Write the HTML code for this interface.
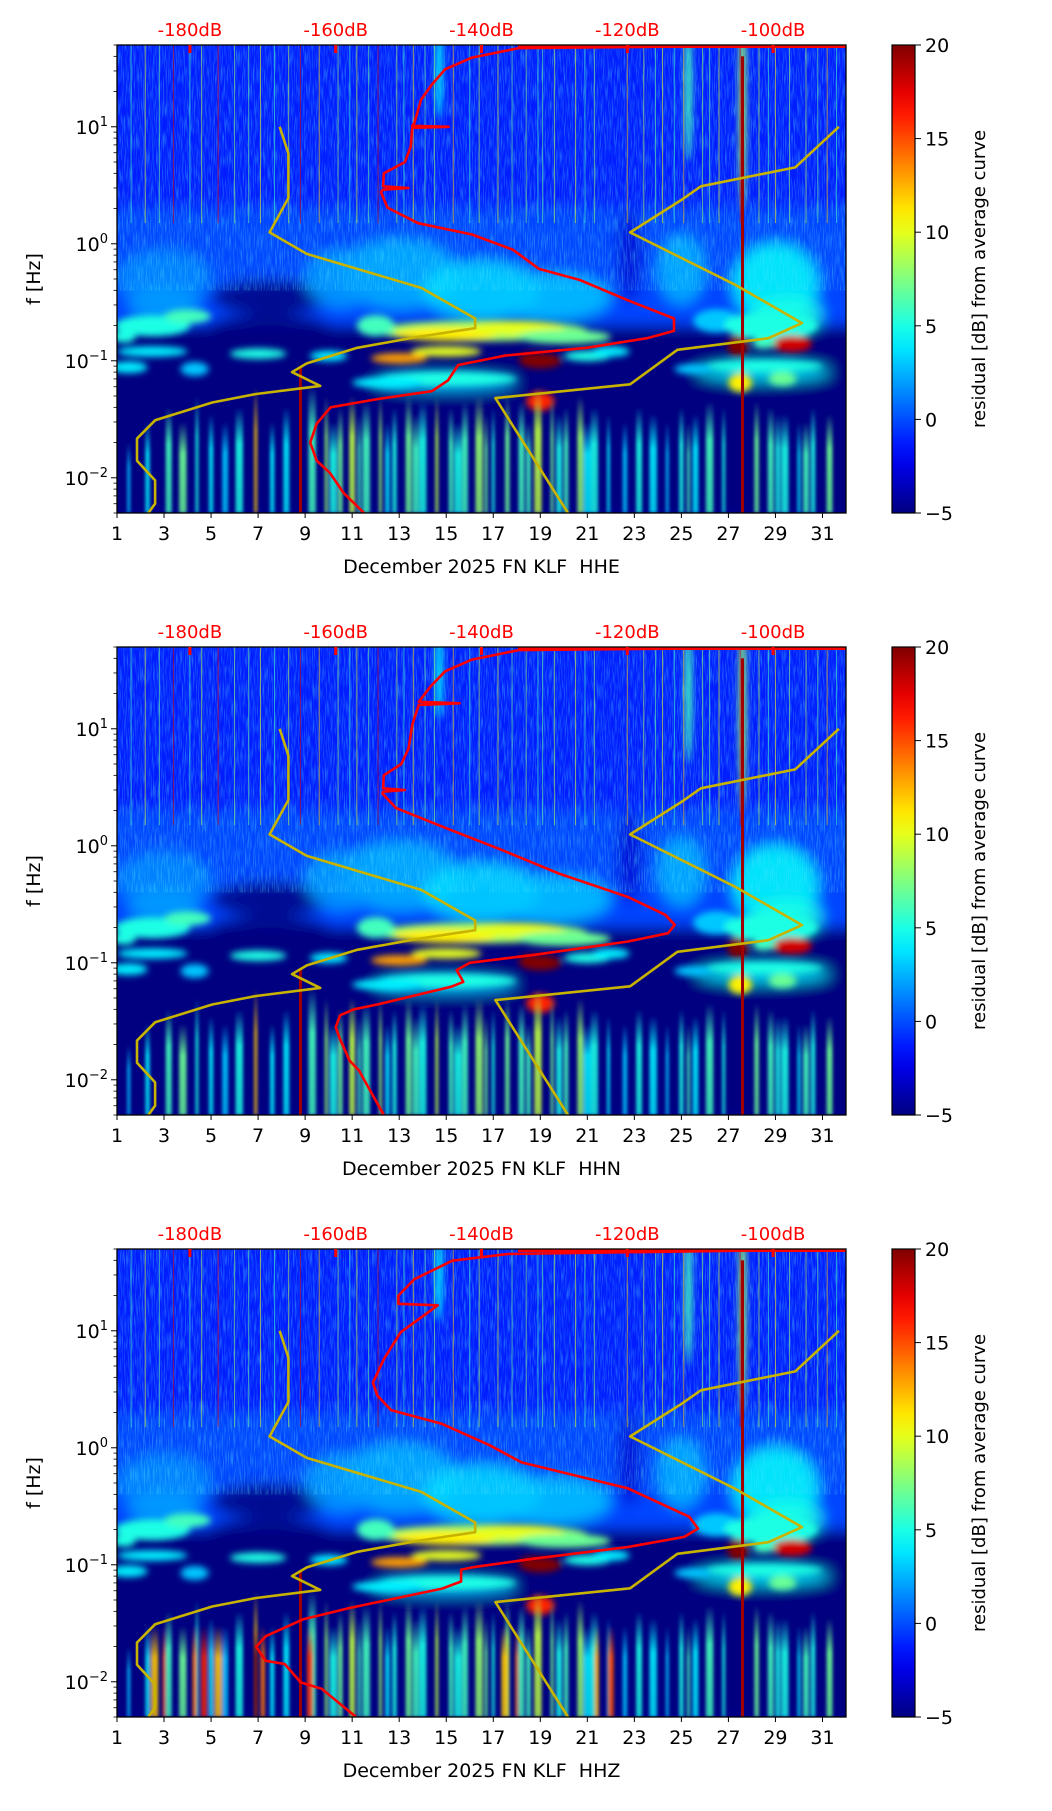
<!DOCTYPE html>
<html><head><meta charset="utf-8"><title>Residual spectrogram KLF December 2025</title>
<style>
html,body{margin:0;padding:0;background:#fff;}
svg text{font-family:"DejaVu Sans","Liberation Sans",sans-serif;}
</style></head>
<body>
<svg id="fig" xmlns="http://www.w3.org/2000/svg" width="1052" height="1806" viewBox="0 0 1052 1806">
<defs>
<filter id="blur" x="-50%" y="-50%" width="200%" height="200%"><feGaussianBlur stdDeviation="7"/></filter>
<filter id="blurs" x="-50%" y="-50%" width="200%" height="200%"><feGaussianBlur stdDeviation="3.5"/></filter>
<filter id="blur2" x="-20%" y="-20%" width="140%" height="140%"><feGaussianBlur stdDeviation="1.5"/></filter>
<filter id="noise" x="0" y="0" width="100%" height="100%">
<feTurbulence type="fractalNoise" baseFrequency="0.9 0.06" numOctaves="2" seed="3"/>
<feColorMatrix type="matrix" values="0 0 0 0 0.1  0 0 0 0 0.8  0 0 0 0 1  0 0 0 -2.4 1.4"/>
</filter>
<linearGradient id="cbar" x1="0" y1="1" x2="0" y2="0"></linearGradient>
</defs>
</svg>
<script>
// ---------- data ----------
const dayTicks = [1,3,5,7,9,11,13,15,17,19,21,23,25,27,29,31];
const dbTicks = [-180,-160,-140,-120,-100];
const cbTicks = [20,15,10,5,0,-5];
const yDecades = [-2,-1,0,1];
const channels = ["HHE","HHN","HHZ"];

// yellow reference curves (day, frequency Hz)
const yellowLeftDay = [7.92,8.29,8.29,7.49,9.07,13.94,16.23,16.23,13.79,11.22,9.07,8.44,9.64,6.92,5.05,2.62,1.85,1.85,2.62,2.62,2.33];
const yellowLeftF   = [10,5.9,2.46,1.25,0.82,0.42,0.23,0.19,0.16,0.129,0.095,0.080,0.061,0.052,0.044,0.031,0.0216,0.014,0.0095,0.006,0.005];
const yellowRightDay = [31.7,29.84,25.83,24.97,22.82,27.26,30.13,28.7,24.83,22.82,17.09,20.18];
const yellowRightF   = [10,4.5,3.1,2.35,1.25,0.45,0.21,0.156,0.124,0.063,0.048,0.005];

// red average curves (dB, frequency Hz) per channel
const redF1  = [50,47,39,31,23,17,10.8,10.2,10,9.8,6.8,5.0,4.0,3.1,3.0,2.9,2.77,2.04,1.5,1.2,0.89,0.61,0.49,0.33,0.23,0.18,0.156,0.129,0.111,0.092,0.068,0.055,0.047,0.040,0.029,0.020,0.014,0.011,0.0074,0.005];
const redDb1 = [-89.5,-134.9,-141.3,-145,-146.8,-148.3,-149.2,-149.5,-144.5,-149.5,-149.7,-150.5,-153.4,-153.5,-150,-153.5,-153.8,-152.9,-148.7,-141.3,-135.7,-132.1,-126.5,-120,-113.6,-113.6,-117.3,-125.6,-136.7,-143.2,-144.6,-146.8,-154.3,-160.7,-162.6,-163.5,-162.6,-160.8,-158.9,-156.1];
const redF2  = [50,47,39,31,23,17,16.5,16,10.8,6.8,5.0,4.0,3.1,3.0,2.9,2.8,2.1,1.46,0.91,0.58,0.365,0.257,0.211,0.179,0.152,0.117,0.1,0.0866,0.0687,0.0626,0.044,0.040,0.0356,0.0282,0.0222,0.0146,0.012,0.005];
const redDb2 = [-89.5,-134.9,-141.3,-145,-147,-148.6,-143,-148.6,-149.5,-150,-151,-153.4,-153.5,-150.5,-153.5,-153.6,-151.7,-145.4,-137,-129.4,-119.9,-114.8,-113.5,-114.4,-119.9,-132.7,-141.6,-143.4,-142.5,-144.1,-154.3,-157.5,-159.4,-160,-159.4,-158.1,-156.8,-153.4];
const redF3  = [50,45.3,39.7,27.6,20,17,16.5,9.7,5.7,3.6,2.8,2.1,1.6,1.06,0.75,0.45,0.257,0.204,0.173,0.142,0.113,0.096,0.091,0.072,0.0626,0.0427,0.0341,0.0245,0.0199,0.0151,0.0142,0.00988,0.0087,0.005];
const redDb3 = [-89.5,-136.4,-144,-149.2,-151.4,-151.4,-146,-151.1,-153.4,-154.9,-154.3,-152.4,-145.4,-139,-134.5,-119.9,-111.5,-110.3,-112.2,-119.9,-132.7,-140.9,-142.8,-142.8,-145.4,-158.1,-164.5,-169.6,-170.9,-169.6,-167,-164.8,-161.9,-157.2];
const redDbSets = [redDb1, redDb2, redDb3];
const redFSets = [redF1, redF2, redF3];

// spectrogram background regions: day0, day1, f0, f1, level dB
const regionDay0 = [1, 1, 1];
const regionDay1 = [32, 32, 32];
const regionF0 = [2, 0.2, 0.005];
const regionF1 = [50, 2, 0.2];
const regionLevel = [-1.2, -0.2, -5];

// broad blobs (heavy blur): day, frequency, half-width (days), half-height (decades), level dB
const wideDay = [13,16.5,19.5,29,3,7.5,22.8,25,10.5,7.5,3,29.5,28.5,15];
const wideF   = [0.55,0.4,0.35,0.45,0.5,0.35,0.8,0.6,0.5,0.2,0.3,0.25,0.08,0.065];
const wideRx  = [2.5,2.5,2.5,1.8,2,2.5,0.5,1,1.5,2.5,1.5,1.5,2.8,3];
const wideRy  = [0.3,0.25,0.2,0.35,0.25,0.15,0.4,0.3,0.25,0.1,0.15,0.15,0.08,0.07];
const wideLevel = [2.5,3.5,3,4.5,1.5,-5,-3,2.5,2,-5,2,5,4,3];

// compact features (light blur): day, frequency, half-width (days), half-height (decades), level dB
const blobDay = [2.5,4,1.3,2.5,7,10,1.5,4.3,16.5,15,18,12,20,13,15,19,18.6,21,22,15,19,12.5,26.5,28.8,27.4,29.7,28.5,28.5,27.5,29.3,25.5,14.7,25.3,27.6];
const blobF   = [0.2,0.24,0.16,0.12,0.115,0.11,0.088,0.085,0.18,0.17,0.19,0.2,0.16,0.105,0.12,0.1,0.105,0.11,0.12,0.07,0.045,0.065,0.22,0.2,0.135,0.14,0.14,0.09,0.065,0.07,0.085,30,20,15];
const blobRx  = [1.6,1.0,0.5,1.5,1.2,0.8,0.8,0.6,4.5,2.2,2,0.8,2,1.2,1.5,0.9,0.5,1,0.8,3,0.6,1.5,1,2,0.45,0.85,0.5,2.5,0.5,0.6,0.8,0.15,0.15,0.15];
const blobRy  = [0.09,0.06,0.05,0.045,0.045,0.045,0.05,0.06,0.09,0.06,0.06,0.09,0.06,0.045,0.045,0.065,0.05,0.045,0.045,0.06,0.08,0.05,0.1,0.12,0.09,0.07,0.045,0.05,0.08,0.06,0.045,0.4,0.6,0.9];
const blobLevel = [5,6,5,4,5,4,4,3,8,11,10,6,7,13,10,21,20,5,4,5,16,4,3,5,20,18,6,5,11,7,3,4,6,8];

// thin vertical streaks in upper band: day, level dB
const upperStreakDay = [2.2,3.4,4.6,5.3,6.0,7.1,8.3,8.8,9.6,10.4,11.2,12.1,12.9,13.6,14.5,15.3,16.4,17.2,18.4,19.6,20.5,21.3,22.7,23.4,24.2,25.1,25.9,26.6,27.5,28.3,29.0,29.6,30.3,31.2,2.8,6.6,11.7,14.1,17.8,19.1,23.9,26.2,30.8,1.6,4.1,7.7,10.9,13.2,16.0,18.9,20.9,24.7,28.7,31.6];
const upperStreakLevel = [10,18,9,17,8,10,9,18,12,8,10,18,9,11,8,12,9,10,8,9,10,8,12,9,10,12,8,10,18,9,11,8,9,12,7,7,7,7,7,7,7,7,7,6,6,6,6,6,6,6,6,6,6,6];

// lower band streaks: day, top frequency Hz, level dB
const lowStreakDay = [1.5,2.3,3.2,3.8,4.4,5.0,5.6,6.2,6.9,7.6,8.2,9.3,9.9,10.5,11.0,11.6,12.2,12.8,13.4,14.0,14.6,15.2,15.8,16.4,17.0,17.6,18.2,18.9,19.5,20.1,20.7,21.3,21.9,22.6,23.2,23.8,24.4,25.0,25.6,26.2,26.8,28.2,28.8,29.4,30.0,30.6,31.3,10.2,11.3,12.5,13.7,15.5,16.7,18.5,19.8,21.0,25.3,29.1,30.3];
const lowStreakTop = [0.02,0.03,0.04,0.03,0.05,0.035,0.03,0.04,0.06,0.03,0.04,0.06,0.05,0.04,0.05,0.045,0.05,0.04,0.05,0.045,0.05,0.04,0.045,0.05,0.04,0.05,0.045,0.06,0.05,0.04,0.05,0.04,0.035,0.03,0.04,0.035,0.03,0.04,0.035,0.045,0.04,0.045,0.04,0.035,0.03,0.04,0.035,0.03,0.035,0.03,0.035,0.03,0.035,0.03,0.035,0.03,0.03,0.035,0.03];
const lowStreakLevel = [3,4,6,7,5,4,3,5,12,4,4,6,8,7,9,6,8,5,7,5,9,6,6,8,5,7,6,9,7,6,8,5,4,3,5,4,3,5,4,6,5,7,6,5,4,5,7,5,6,4,6,5,7,6,5,4,6,5,6];
const hotStreakDay = [8.8,27.6];
const hotStreakTop = [0.09,40];
// extra warm streaks for HHZ low frequencies
const zStreakDay = [2.6,3.0,4.3,4.7,5.3,6.9,7.2,9.2,17.5,18.0,21.4,22.0];
const zStreakLevel = [12,15,14,16,12,20,14,16,12,14,13,15];

// ---------- geometry ----------
const svg = document.getElementById('fig');
const NS = 'http://www.w3.org/2000/svg';
const PL = 117, PR = 846, PH = 468, TOPS = [45,647,1249];
const CBX = 892, CBW = 23;
const X = d => PL + (d - 1) * (PR - PL) / 31;
const XdB = db => PL + (db + 190) * (PR - PL) / 100;
const mkY = top => f => top + (Math.log10(50) - Math.log10(f)) * PH / 4;
function jetV(v){
  v = Math.max(0, Math.min(1, v));
  const c = t => Math.round(255 * Math.max(0, Math.min(1, t)));
  let r = c(1.5 - Math.abs(4*v - 3)), g = c(1.5 - Math.abs(4*v - 2)), b = c(1.5 - Math.abs(4*v - 1));
  return `rgb(${r},${g},${b})`;
}
const jet = db => jetV((db + 5) / 25);
function el(tag, attrs, parent){
  const e = document.createElementNS(NS, tag);
  for (const k in attrs) e.setAttribute(k, attrs[k]);
  (parent || svg).appendChild(e);
  return e;
}
function txt(x, y, s, attrs, parent){
  const t = el('text', Object.assign({x: x, y: y}, attrs), parent);
  t.textContent = s;
  return t;
}
const cbg = document.getElementById('cbar');
for (let i = 0; i <= 20; i++) el('stop', {offset: i/20, 'stop-color': jetV(i/20)}, cbg);

let gradId = 0;
TOPS.forEach((top, p) => {
  const Y = mkY(top);
  const g = el('g', {});
  
  
  const clipId = 'clip' + p;
  const cp = el('clipPath', {id: clipId}, g);
  el('rect', {x: PL, y: top, width: PR-PL, height: PH}, cp);

  const img = el('g', {'clip-path': `url(#${clipId})`}, g);
  
  
  el('rect', {x: PL, y: top, width: PR-PL, height: PH, fill: '#00008f'}, img);
  const rg = el('g', {filter: 'url(#blur)'}, img);
  for (let i = 0; i < regionDay0.length; i++) {
    const r = el('rect', {x: X(regionDay0[i]) - 20, y: Y(regionF1[i]) - (i===0?20:0), width: X(regionDay1[i]) - X(regionDay0[i]) + 40, height: Y(regionF0[i]) - Y(regionF1[i]) + (i===0?20:0), fill: jet(regionLevel[i])}, rg);
    
    
  }
  for (let i = 0; i < wideDay.length; i++) {
    const e = el('ellipse', {cx: X(wideDay[i]), cy: Y(wideF[i]), rx: wideRx[i] * (PR-PL) / 31, ry: wideRy[i] * PH / 4, fill: jet(wideLevel[i]), opacity: 0.85}, rg);
    
    
  }
  // speckle noise on upper part
  el('rect', {x: PL, y: top, width: PR-PL, height: Y(0.4)-top, filter: 'url(#noise)', opacity: 0.4}, img);
  const bg = el('g', {filter: 'url(#blurs)'}, img);
  for (let i = 0; i < blobDay.length; i++) {
    const e = el('ellipse', {cx: X(blobDay[i]), cy: Y(blobF[i]), rx: blobRx[i] * (PR-PL) / 31, ry: blobRy[i] * PH / 4, fill: jet(blobLevel[i])}, bg);
    
    
  }
  // low-frequency streaks
  const ls = el('g', {filter: 'url(#blur2)'}, img);
  const lowDays = lowStreakDay.slice(), lowLev = lowStreakLevel.slice(), lowTop = lowStreakTop.slice();
  if (p === 2) { zStreakDay.forEach((d,i)=>{lowDays.push(d); lowLev.push(zStreakLevel[i]); lowTop.push(0.03);}); }
  for (let i = 0; i < lowDays.length; i++) {
    const id = 'lg' + (gradId++);
    const lg = el('linearGradient', {id: id, x1: 0, y1: 0, x2: 0, y2: 1}, ls);
    el('stop', {offset: 0, 'stop-color': jet(lowLev[i]), 'stop-opacity': 0}, lg);
    el('stop', {offset: 0.35, 'stop-color': jet(lowLev[i]), 'stop-opacity': 0.9}, lg);
    el('stop', {offset: 1, 'stop-color': jet(lowLev[i]), 'stop-opacity': 0.8}, lg);
    const y0 = Y(lowTop[i]);
    const w = 3 + (i % 4) * 1.5;
    const r = el('rect', {x: X(lowDays[i]) - w/2, y: y0, width: w, height: top + PH - y0, fill: `url(#${id})`}, ls);
    
    
  }
  for (let i = 0; i < hotStreakDay.length; i++) {
    const r = el('rect', {x: X(hotStreakDay[i]) - 1.5, y: Y(hotStreakTop[i]), width: 3, height: top + PH - Y(hotStreakTop[i]), fill: '#a00000'}, img);
    
    
  }
  for (let i = 0; i < upperStreakDay.length; i++) {
    const r = el('rect', {x: X(upperStreakDay[i]) - 0.5, y: top, width: 1, height: Y(1.5) - top, fill: jet(upperStreakLevel[i]), opacity: 0.6}, img);
    
    
  }

  // yellow curves
  [[yellowLeftDay, yellowLeftF, 'yellow-curve-left'], [yellowRightDay, yellowRightF, 'yellow-curve-right']].forEach(([ds, fs, nm]) => {
    const pts = ds.map((d, i) => X(d).toFixed(1) + ',' + Y(fs[i]).toFixed(1)).join(' ');
    const pl = el('polyline', {points: pts, fill: 'none', stroke: '#c8b400', 'stroke-width': 2.6, 'stroke-linejoin': 'round'}, img);
    
    
  });
  // red average curve
  const rd = redDbSets[p], rf = redFSets[p];
  const rpts = rd.map((d, i) => XdB(d).toFixed(1) + ',' + Y(rf[i]).toFixed(1)).join(' ');
  const rl = el('polyline', {points: rpts, fill: 'none', stroke: '#ff0000', 'stroke-width': 2.6, 'stroke-linejoin': 'round'}, img);
  
  
  el('rect', {x: XdB(-135), y: top, width: PR - XdB(-135), height: 3, fill: '#ff0000'}, img);

  // frame
  const fr = el('rect', {x: PL, y: top, width: PR-PL, height: PH, fill: 'none', stroke: '#000', 'stroke-width': 1.3}, g);
  
  

  // x ticks
  dayTicks.forEach(d => {
    el('line', {x1: X(d), x2: X(d), y1: top+PH, y2: top+PH+5, stroke: '#000', 'stroke-width': 1}, g);
    const t = txt(X(d), top+PH+27, d, {'font-size': 19, 'text-anchor': 'middle', fill: '#000'}, g);
    
    
  });
  const xt = txt((PL+PR)/2, top+PH+60, 'December 2025 FN KLF\u00a0 ' + channels[p], {'font-size': 19, 'text-anchor': 'middle', fill: '#000'}, g);
  
  
  // top dB labels
  dbTicks.forEach(db => {
    const t = txt(XdB(db), top-9, db + 'dB', {'font-size': 18, 'text-anchor': 'middle', fill: '#ff0000'}, g);
    
    
    el('rect', {x: XdB(db)-1.5, y: top, width: 3, height: 8, fill: '#ff0000'}, g);
  });
  // y ticks
  yDecades.forEach(k => {
    const y = Y(Math.pow(10, k));
    el('line', {x1: PL-6, x2: PL, y1: y, y2: y, stroke: '#000', 'stroke-width': 1}, g);
    const t = el('text', {x: PL-9, y: y+7, 'font-size': 19, 'text-anchor': 'end', fill: '#000'}, g);
    
    
    const a = el('tspan', {}, t); a.textContent = '10';
    const b = el('tspan', {dy: -8, 'font-size': 13}, t); b.textContent = k < 0 ? '\u2212' + (-k) : String(k);
  });
  for (let k = -3; k <= 1; k++) for (let m = 2; m <= 9; m++) {
    const f = m * Math.pow(10, k);
    if (f < 0.005 || f > 50) continue;
    el('line', {x1: PL-3.5, x2: PL, y1: Y(f), y2: Y(f), stroke: '#000', 'stroke-width': 0.8}, g);
  }
  const yl = txt(0, 0, 'f [Hz]', {'font-size': 19, 'text-anchor': 'middle', fill: '#000', transform: `translate(40,${top+PH/2}) rotate(-90)`}, g);
  
  

  // colorbar
  const cb = el('rect', {x: CBX, y: top, width: CBW, height: PH, fill: 'url(#cbar)', stroke: '#000', 'stroke-width': 1.2}, g);
  
  
  cbTicks.forEach(v => {
    const y = top + (20 - v) / 25 * PH;
    el('line', {x1: CBX+CBW, x2: CBX+CBW+6, y1: y, y2: y, stroke: '#000', 'stroke-width': 1}, g);
    const t = txt(CBX+CBW+10, y+7, v < 0 ? '\u2212' + (-v) : v, {'font-size': 19, fill: '#000'}, g);
    
    
  });
  const cl = txt(0, 0, 'residual [dB] from average curve', {'font-size': 18, 'text-anchor': 'middle', fill: '#000', transform: `translate(985,${top+PH/2}) rotate(-90)`}, g);
  
  
});
</script>
</body></html>
